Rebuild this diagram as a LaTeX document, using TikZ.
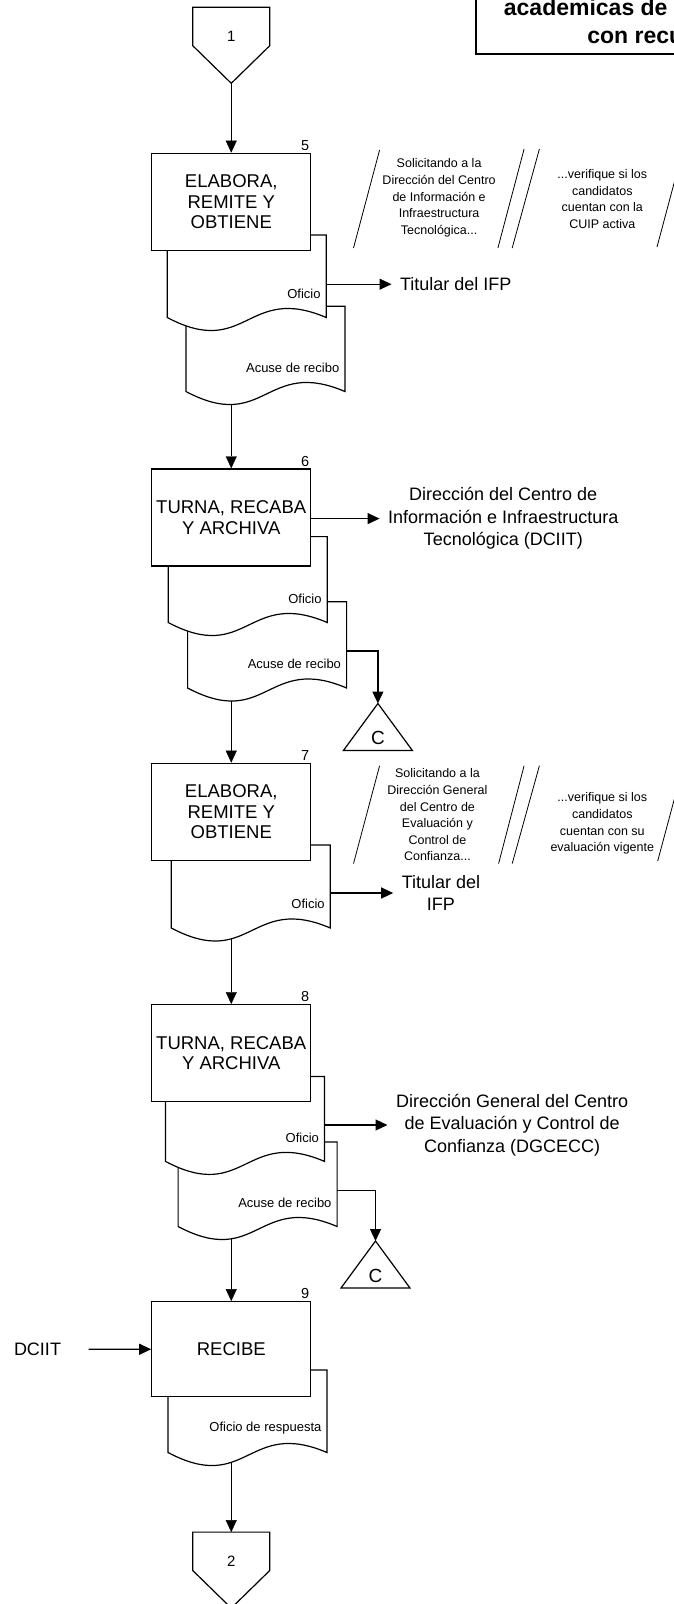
\documentclass[tikz,border=0pt]{standalone}
\usepackage{fontspec}
\setmainfont{Liberation Sans}
\usetikzlibrary{arrows.meta,backgrounds}

% documento con borde ondulado: nombre, esquina superior izquierda, alto, texto
\newcommand{\documento}[4]{%
  \node[docu, minimum height=#3, anchor=north west] (#1) at (#2) {};
  \draw[fill=white] (#1.north west) -- (#1.north east) -- (#1.south east)
    .. controls ([yshift=34pt]#1.south) and ([yshift=-42pt]#1.south) .. (#1.south west) -- cycle;
  \node[etiqueta, anchor=east] (#1-txt) at ([xshift=-5pt,yshift=24pt]#1.south east) {#4};
}

\begin{document}
\begin{tikzpicture}[x=1pt, y=-1pt, >={Triangle[length=12pt,width=11pt]}, line width=1.2pt]
        % Styles
        \tikzstyle{proceso}=[rectangle, draw, fill=white, minimum width=159pt, minimum height=97pt, align=center, font=\fontsize{18.5}{20.5}\selectfont]
        \tikzstyle{docu}=[rectangle, minimum width=159pt, inner sep=0pt, outer sep=0pt]
        \tikzstyle{etiqueta}=[inner sep=0pt, font=\fontsize{13}{15}\selectfont]
        \tikzstyle{paso}=[inner sep=1.5pt, anchor=south east, font=\fontsize{14.5}{16}\selectfont]
        \tikzstyle{nota}=[align=center, font=\fontsize{12.5}{16.6}\selectfont]
        \tikzstyle{destino}=[anchor=west, align=center, inner xsep=8pt, font=\fontsize{18}{22.5}\selectfont]
        \tikzstyle{conector}=[rectangle, minimum width=77pt, minimum height=38.4pt, inner sep=0pt, outer sep=0pt]
        \tikzstyle{digito}=[font=\fontsize{15}{17}\selectfont]
        \tikzstyle{letra}=[font=\fontsize{19}{20}\selectfont]
        \tikzstyle{titulotxt}=[inner sep=0pt, font=\fontsize{23}{27}\selectfont\bfseries]
        \tikzstyle{linea}=[line width=0.8pt]

        \useasboundingbox (0,0) rectangle (673,1604);

        % Titulo
        \node[draw, line width=1.6pt, anchor=south west, minimum width=260pt, minimum height=90pt] (titulo) at (475,55) {};
        \node[titulotxt, anchor=base west] (tit1) at (503.3,15) {academicas de};
        \node[titulotxt, anchor=base west] (tit2) at (586.7,43.3) {con recu};

        % Conector 1
        \node[conector] (c1) at (231.25,26.5) {};
        \draw[fill=white] (c1.south west) -- (c1.north west) -- (c1.north east) -- (c1.south east) -- ++(-38.5,37.6) coordinate (c1tip) -- cycle;
        \node[digito] (c1n) at ([yshift=-9.5pt]c1.center) {1};

        % Paso 5
        \documento{ac5}{185.9,306.3}{85.2pt}{Acuse de recibo}
        \documento{of5}{167.2,234.9}{82.6pt}{Oficio}
        \node[proceso] (b5) at (231.25,201.75) {ELABORA,\\REMITE Y\\OBTIENE};
        \node[paso] (n5) at (b5.north east) {5};
        \draw[linea] (353.5,248) -- (379.6,150);
        \node[nota] (s5a) at (439.1,197.8) {Solicitando a la\\Dirección del Centro\\de Información e\\Infraestructura\\Tecnológica...};
        \draw[linea] (497.9,248) -- (524.1,149);
        \draw[linea] (512.2,248) -- (539.4,149);
        \node[nota] (s5b) at (602.3,199) {...verifique si los\\candidatos\\cuentan con la\\CUIP activa};
        \draw[linea] (657,247) -- (683.2,149);
        \node[destino] (t5) at (391.5,284.2) {Titular del IFP};
        \draw[->] (of5.east |- t5.west) -- (t5.west);

        % Paso 6
        \documento{ac6}{187.6,601.8}{86.2pt}{Acuse de recibo}
        \documento{of6}{168.2,536.6}{85.9pt}{Oficio}
        \node[proceso] (b6) at (231.25,517.4) {TURNA, RECABA\\Y ARCHIVA};
        \node[paso] (n6) at (b6.north east) {6};
        \node[destino] (d6) at (379.6,518.6) {Dirección del Centro de\\Información e Infraestructura\\Tecnológica (DCIIT)};
        \draw[->] (b6.east |- d6.west) -- (d6.west);
        \node[letra] (k6) at (377.9,738) {C};
        \draw (k6) ++(0,-34.5) coordinate (k6top) -- ++(34.5,47) -- ++(-69,0) -- cycle;
        \draw[->] ([yshift=-6pt]ac6.east) -| (k6top);

        % Paso 7
        \documento{of7}{171.3,844.9}{83.1pt}{Oficio}
        \node[proceso] (b7) at (231.25,811.75) {ELABORA,\\REMITE Y\\OBTIENE};
        \node[paso] (n7) at (b7.north east) {7};
        \draw[linea] (353.5,863.6) -- (379.6,765.7);
        \node[nota] (s7a) at (437.4,815) {Solicitando a la\\Dirección General\\del Centro de\\Evaluación y\\Control de\\Confianza...};
        \draw[linea] (498.6,863.6) -- (524.1,765.7);
        \draw[linea] (512.2,863.6) -- (539.4,765.7);
        \node[nota] (s7b) at (602.3,823.5) {...verifique si los\\candidatos\\cuentan con su\\evaluación vigente};
        \draw[linea] (657.7,861) -- (684,763);
        \node[destino] (t7) at (393.2,893) {Titular del\\IFP};
        \draw[->] (of7.east |- t7.west) -- (t7.west);

        % Paso 8
        \documento{ac8}{178.1,1142}{84.5pt}{Acuse de recibo}
        \documento{of8}{165.5,1076.4}{85pt}{Oficio}
        \node[proceso] (b8) at (231.25,1053.15) {TURNA, RECABA\\Y ARCHIVA};
        \node[paso] (n8) at (b8.north east) {8};
        \node[destino] (d8) at (387.5,1125) {Dirección General del Centro\\de Evaluación y Control de\\Confianza (DGCECC)};
        \draw[->] (of8.east |- d8.west) -- (d8.west);
        \node[letra] (k8) at (375.5,1275.5) {C};
        \draw (k8) ++(0,-34.5) coordinate (k8top) -- ++(34.5,47) -- ++(-69,0) -- cycle;
        \draw[->] ([yshift=-6pt]ac8.east) -| (k8top);

        % Paso 9
        \documento{re9}{168,1370}{82.5pt}{Oficio de respuesta}
        \node[proceso, minimum height=95pt] (b9) at (231.25,1349.2) {RECIBE};
        \node[paso] (n9) at (b9.north east) {9};
        \node[font=\fontsize{18}{20}\selectfont, inner xsep=27pt] (dciit) at (37.5,1349.3) {DCIIT};
        \draw[->] (dciit) -- (b9);

        % Conector 2
        \node[conector] (c2) at (231.25,1551.3) {};
        \draw[fill=white] (c2.south west) -- (c2.north west) -- (c2.north east) -- (c2.south east) -- ++(-38.5,37.6) -- cycle;
        \node[digito] (c2n) at ([yshift=-9.5pt]c2.center) {2};

        % Flechas principales
        \begin{scope}[on background layer]
            \fill[white] (0,0) rectangle (673,1604);
            \draw[->] (c1tip) -- (c1tip |- b5.north);
            \draw[->] (ac5.center -| b6.north) -- (b6.north);
            \draw[->] (ac6.center -| b7.north) -- (b7.north);
            \draw[->] (of7.center -| b8.north) -- (b8.north);
            \draw[->] (ac8.center -| b9.north) -- (b9.north);
            \draw[->] (re9.center -| c2.north) -- (c2.north);
        \end{scope}
    \end{tikzpicture}
\end{document}
